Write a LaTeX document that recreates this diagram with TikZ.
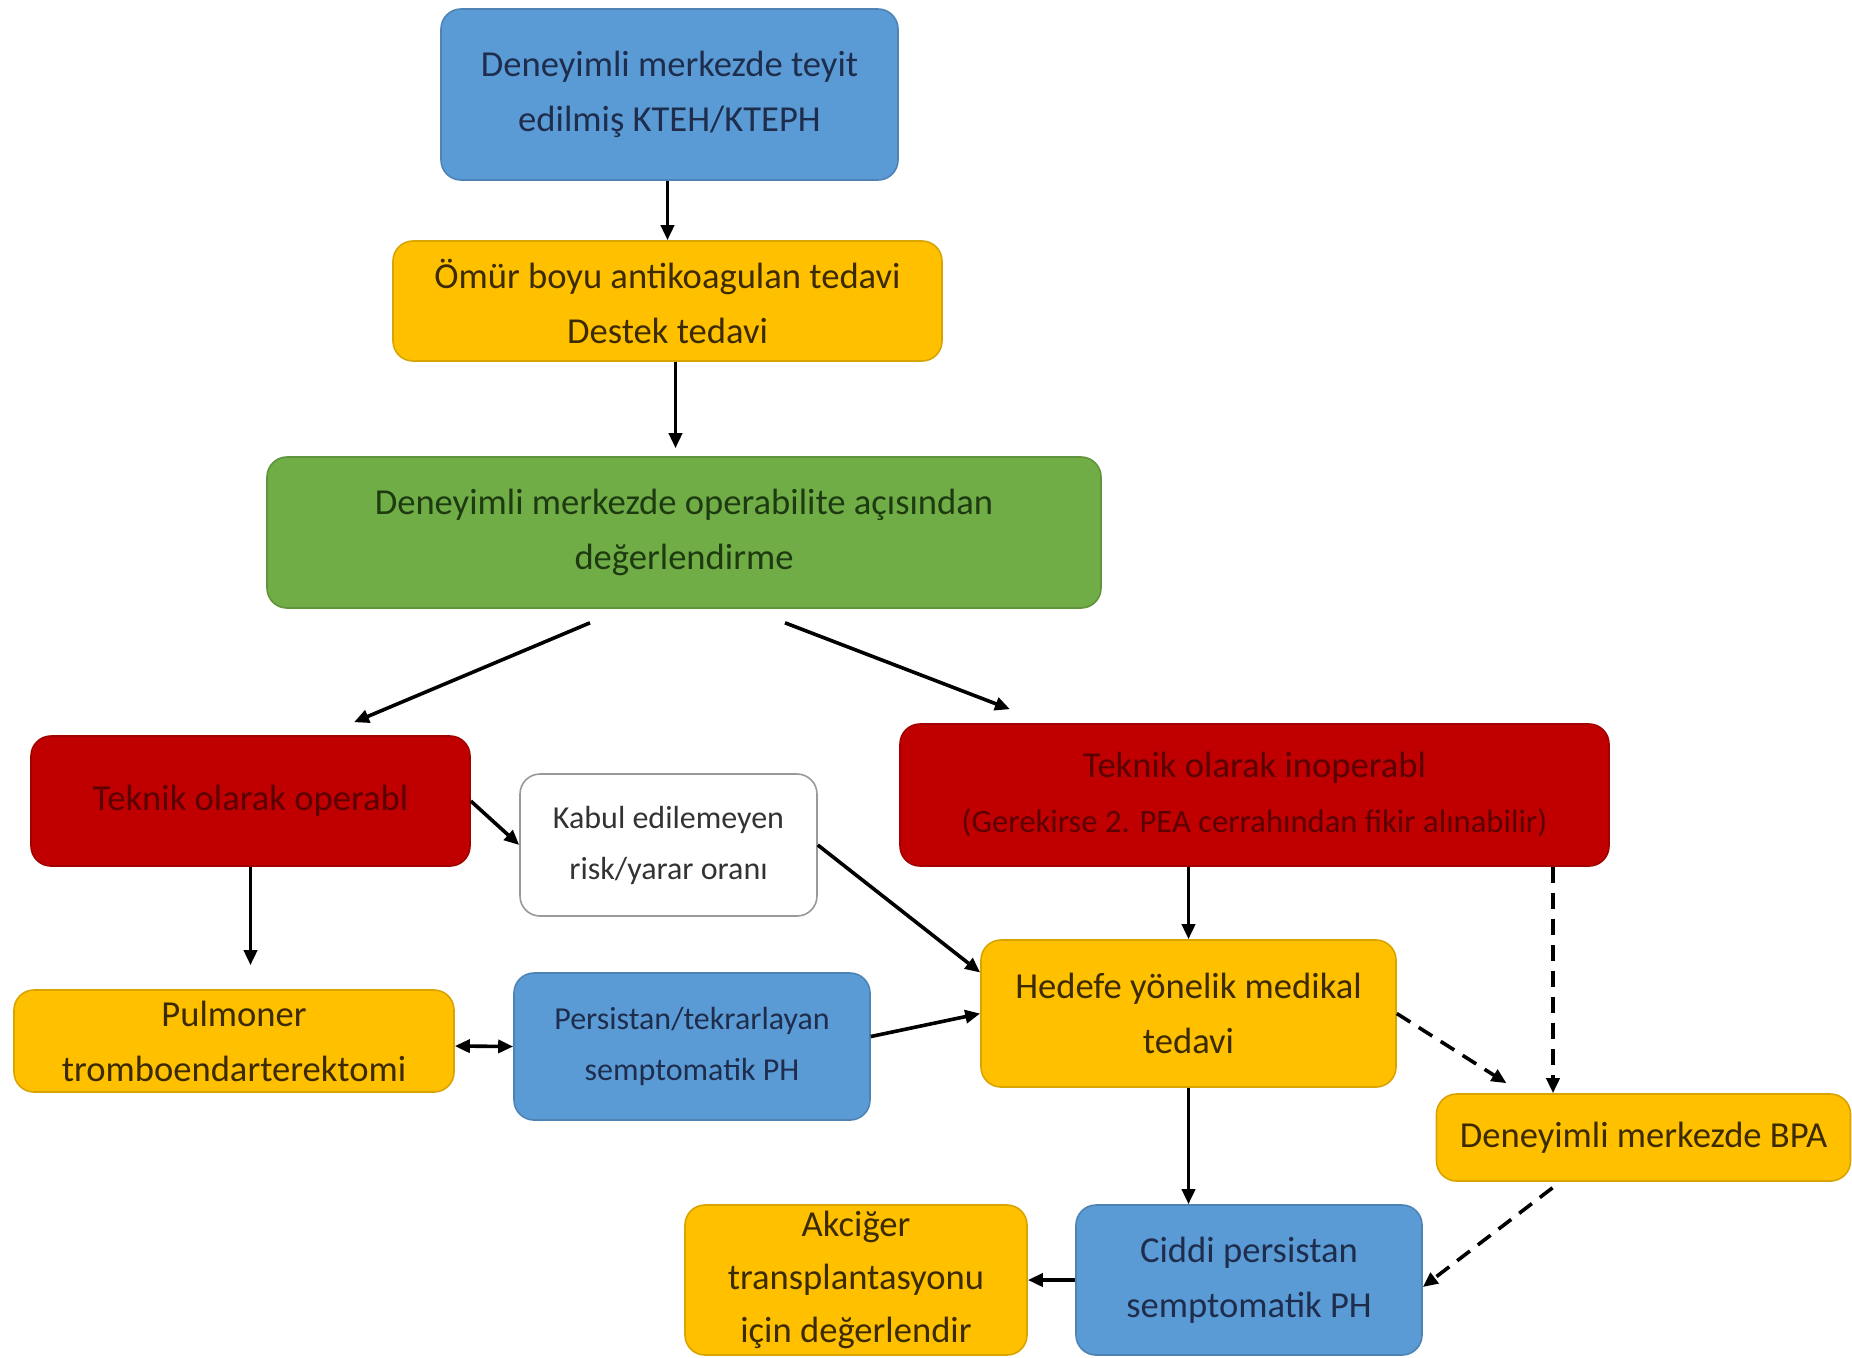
\documentclass[tikz,border=0pt]{standalone}
\usepackage{fontspec}
\setmainfont{Carlito}
\usetikzlibrary{arrows.meta}
\definecolor{cblue}{HTML}{5B9BD5}
\definecolor{cyel}{HTML}{FFC000}
\definecolor{cgreen}{HTML}{70AD47}
\definecolor{cred}{HTML}{C00000}
\definecolor{tblue}{HTML}{1F2D4D}
\definecolor{tyel}{HTML}{3D2B00}
\definecolor{tgreen}{HTML}{1E3A10}
\definecolor{tred}{HTML}{5A0000}
\begin{document}
\begin{tikzpicture}[x=0.5pt,y=-0.5pt,
 box/.style={rounded corners=10pt, inner sep=0pt, align=center, font=\fontsize{18.3}{27.5}\selectfont, line width=0.8pt},
 bluebox/.style={box, fill=cblue, draw=cblue!85!black, text=tblue},
 yelbox/.style={box, fill=cyel, draw=cyel!85!black, text=tyel},
 greenbox/.style={box, fill=cgreen, draw=cgreen!85!black, text=tgreen},
 redbox/.style={box, fill=cred, draw=cred!85!black, text=tred},
 whitebox/.style={box, fill=white, draw=black!40, text=black!80, font=\fontsize{16}{25.5}\selectfont},
 smallfont/.style={font=\fontsize{16}{25.5}\selectfont},
 arr/.style={line width=1.8pt, -{Triangle[length=7.5pt,width=6.5pt]}},
 darr/.style={arr, dash pattern=on 8pt off 5pt},
 dblarr/.style={line width=1.8pt, {Triangle[length=7.5pt,width=6.5pt]}-{Triangle[length=7.5pt,width=6.5pt]}},
]
\useasboundingbox (0,0) rectangle (1852,1357);

\node[bluebox, minimum width=228.5pt, minimum height=85.5pt] (top) at (669.5,94.5)
  {Deneyimli merkezde teyit\\edilmiş KTEH/KTEPH};
\node[yelbox, minimum width=274.5pt, minimum height=60pt] (omur) at (667.5,301)
  {Ömür boyu antikoagulan tedavi\\Destek tedavi};
\node[greenbox, minimum width=417pt, minimum height=75.5pt] (green) at (684,532.5)
  {Deneyimli merkezde operabilite açısından\\değerlendirme};
\node[redbox, minimum width=219.5pt, minimum height=65pt] (redL) at (250.5,801)
  {Teknik olarak operabl};
\node[whitebox, minimum width=148.5pt, minimum height=71pt] (white) at (668.5,845)
  {Kabul edilemeyen\\risk/yarar oranı};
\node[redbox, minimum width=354.5pt, minimum height=71pt] (redR) at (1254.5,795)
  {Teknik olarak inoperabl\\{\fontsize{16.3}{26}\selectfont (Gerekirse 2. PEA cerrahından fikir alınabilir)}};
\node[yelbox, minimum width=220pt, minimum height=51pt] (pulm) at (234,1041)
  {Pulmoner\\tromboendarterektomi};
\node[bluebox, smallfont, minimum width=178pt, minimum height=73.5pt] (persist) at (692,1046.5)
  {Persistan/tekrarlayan\\semptomatik PH};
\node[yelbox, minimum width=207.5pt, minimum height=73.5pt] (hedefe) at (1188.5,1013.5)
  {Hedefe yönelik medikal\\tedavi};
\node[yelbox, minimum width=207pt, minimum height=43.5pt] (bpa) at (1643.5,1137.5)
  {Deneyimli merkezde BPA};
\node[bluebox, minimum width=173pt, minimum height=75pt] (ciddi) at (1249,1280)
  {Ciddi persistan\\semptomatik PH};
\node[yelbox, font=\fontsize{18.3}{26.5}\selectfont, minimum width=171pt, minimum height=75pt] (akc) at (856,1280)
  {Akciğer\\transplantasyonu\\için değerlendir};

\draw[arr] (top.south -| omur.north) -- (omur.north);
\draw[arr, shorten >=4pt] ([xshift=4pt]omur.south) -- ([xshift=4pt]omur.south |- green.north);
\draw[arr] ([xshift=-47pt,yshift=-7pt]green.south) -- ([xshift=51.75pt,yshift=6.5pt]redL.north);
\draw[arr] ([xshift=50.5pt,yshift=-7pt]green.south) -- ([xshift=-122.25pt,yshift=7pt]redR.north);
\draw[arr] (redL.east) -- (white.west);
\draw[arr, shorten >=12pt] (redL.south) -- (redL.south |- pulm.north);
\draw[arr] (white.east) -- ([yshift=20.5pt]hedefe.west);
\draw[arr] ([yshift=5pt]persist.east) -- (hedefe.west);
\draw[dblarr] ([yshift=-2.5pt]pulm.east) -- (persist.west);
\draw[arr] (redR.south -| hedefe.north) -- (hedefe.north);
\draw[darr] ([xshift=149.25pt]redR.south) -- ([xshift=149.25pt]redR.south |- bpa.north);
\draw[darr] (hedefe.east) -- ([xshift=-68.5pt,yshift=5pt]bpa.north);
\draw[arr] (hedefe.south) -- (hedefe.south |- ciddi.north);
\draw[darr] ([xshift=-45.5pt,yshift=-3pt]bpa.south) -- ([yshift=-3.5pt]ciddi.east);
\draw[arr] (ciddi.west) -- (akc.east);
\end{tikzpicture}
\end{document}
